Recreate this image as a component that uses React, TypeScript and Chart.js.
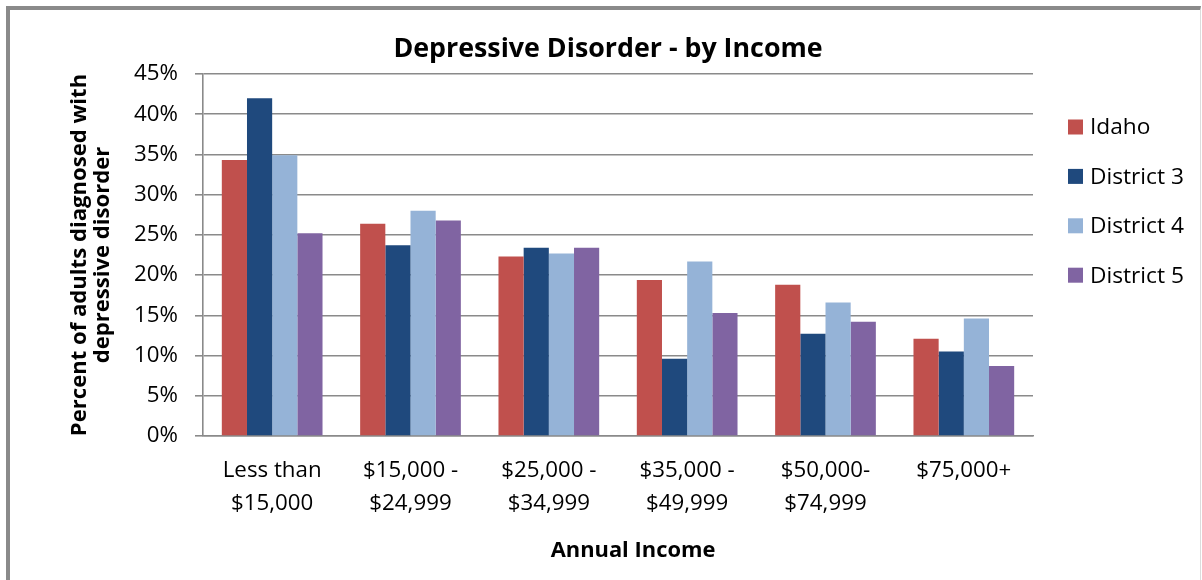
import React, { useEffect, useRef } from "react";
import { Chart, registerables } from "chart.js";

Chart.register(...registerables);

const categories: string[][] = [
  ["Less than", "$15,000"],
  ["$15,000 -", "$24,999"],
  ["$25,000 -", "$34,999"],
  ["$35,000 -", "$49,999"],
  ["$50,000-", "$74,999"],
  ["$75,000+"],
];

const seriesNames = ["Idaho", "District 3", "District 4", "District 5"];
const seriesColors = ["#C0504D", "#1F497D", "#95B3D7", "#8064A2"];

const idaho = [34.3, 26.4, 22.3, 19.4, 18.8, 12.1];
const district3 = [42.0, 23.7, 23.4, 9.6, 12.7, 10.5];
const district4 = [34.9, 28.0, 22.7, 21.7, 16.6, 14.6];
const district5 = [25.2, 26.8, 23.4, 15.3, 14.2, 8.7];

const yMax = 45;
const yStep = 5;

const chartTitle = "Depressive Disorder - by Income";
const xTitle = "Annual Income";
const yTitle = ["Percent of adults diagnosed with", "depressive disorder"];

const FONT = "Open Sans";
const GRID = "#8a8a8a";

// pick a font size whose rendered width matches the reference text width
function fitSize(text: string, weight: string, target: number): number {
  const c = document.createElement("canvas").getContext("2d");
  if (!c) return 20;
  c.font = `${weight} 100px "${FONT}"`;
  const w = c.measureText(text).width || 1;
  return Math.round((100 * target) / w * 10) / 10;
}

export default function App() {
  const ref = useRef<HTMLCanvasElement | null>(null);

  useEffect(() => {
    if (!ref.current) return;
    const titleSize = fitSize(chartTitle, "bold", 430);
    const xTitleSize = fitSize(xTitle, "bold", 165);
    const yTitleSize = fitSize(yTitle[0], "bold", 362);
    const yTickSize = fitSize("45%", "normal", 44);
    const xTickSize = fitSize("Less than", "normal", 99);
    const legendSize = fitSize("District 3", "normal", 94);

    const overlayPlugin = {
      id: "overlayText",
      afterDraw(chart: any) {
        const ctx = chart.ctx as CanvasRenderingContext2D;
        const area = chart.chartArea;
        ctx.save();
        ctx.fillStyle = "#000";
        ctx.font = `bold ${titleSize}px "${FONT}"`;
        ctx.textAlign = "center";
        ctx.textBaseline = "alphabetic";
        ctx.fillText(chartTitle, (area.left + area.right) / 2 - 10, 57);
        ctx.font = `bold ${xTitleSize}px "${FONT}"`;
        ctx.fillText(xTitle, (area.left + area.right) / 2 + 15, 557);
        ctx.textAlign = "left";
        ctx.textBaseline = "middle";
        ctx.font = `${legendSize}px "${FONT}"`;
        const x0 = area.right + 35;
        chart.data.datasets.forEach((ds: any, i: number) => {
          const yc = 127 + i * 49.4;
          ctx.fillStyle = ds.backgroundColor;
          ctx.fillRect(x0, yc - 7.5, 15, 15);
          ctx.fillStyle = "#000";
          ctx.fillText(ds.label, x0 + 22, yc + 1);
        });
        ctx.restore();
      },
    };

    const series = [idaho, district3, district4, district5];
    const chart = new Chart(ref.current, {
      type: "bar",
      data: {
        labels: categories,
        datasets: series.map((d, i) => ({
          label: seriesNames[i],
          data: d,
          backgroundColor: seriesColors[i],
          borderWidth: 0,
          categoryPercentage: 0.728,
          barPercentage: 1,
        })),
      },
      options: {
        responsive: false,
        maintainAspectRatio: false,
        animation: false,
        layout: { padding: { left: 59, top: 74, right: 169, bottom: 18 } },
        plugins: {
          legend: { display: false },
          title: { display: false },
          tooltip: { enabled: false },
        },
        scales: {
          x: {
            afterFit: (s: any) => {
              s.height = 126;
            },
            grid: { display: false, drawTicks: false },
            border: { display: true, color: GRID, width: 1.6 },
            ticks: {
              color: "#000",
              padding: 18,
              maxRotation: 0,
              autoSkip: false,
              font: { family: FONT, size: xTickSize, lineHeight: "33px" },
            },
          },
          y: {
            min: 0,
            max: yMax,
            afterFit: (s: any) => {
              s.width = 144;
            },
            grid: { color: GRID, lineWidth: 1.6, tickLength: 8, drawTicks: true },
            border: { display: true, color: GRID, width: 1.6 },
            ticks: {
              stepSize: yStep,
              color: "#000",
              padding: 17,
              font: { family: FONT, size: yTickSize },
              callback: (v: any) => `${v}%`,
            },
            title: {
              display: true,
              text: yTitle,
              color: "#000",
              padding: { top: 9, bottom: 0 },
              font: { family: FONT, size: yTitleSize, weight: "bold", lineHeight: "23px" },
            },
          },
        },
      },
      plugins: [overlayPlugin],
    });
    return () => chart.destroy();
  }, []);

  return (
    <div
      style={{
        position: "absolute",
        left: 0,
        top: 0,
        width: 1202,
        height: 580,
        background: "#fff",
        overflow: "hidden",
      }}
    >
      <div
        style={{
          position: "absolute",
          left: 6,
          top: 6,
          width: 1190,
          height: 620,
          borderLeft: "4px solid #8a8a8a",
          borderTop: "4px solid #8a8a8a",
          borderRight: "1px solid #dcdcdc",
        }}
      />
      <canvas
        ref={ref}
        width={1202}
        height={580}
        style={{ position: "absolute", left: 0, top: 0, width: 1202, height: 580 }}
      />
    </div>
  );
}
